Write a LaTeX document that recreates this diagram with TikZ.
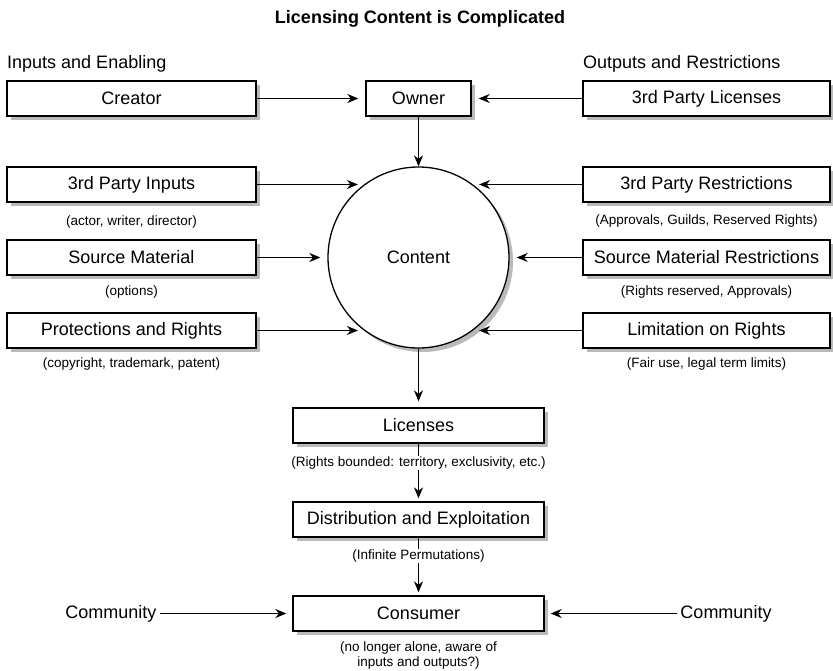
\documentclass[tikz,border=0pt]{standalone}
\usepackage{fontspec}
\setmainfont{Liberation Sans}
\usetikzlibrary{arrows.meta,positioning}

\tikzset{
  box/.style = {draw, line width=1.3pt, fill=white, minimum height=35pt, inner sep=0pt,
    preaction={draw=none, fill=black!27, transform canvas={xshift=4pt, yshift=-4pt}},
    font=\fontsize{18pt}{21pt}\selectfont},
  subtext/.style = {fill=white, inner sep=1pt, align=center,
    font=\fontsize{13.5pt}{15pt}\selectfont},
  plain/.style = {font=\fontsize{18pt}{21pt}\selectfont},
  arr/.style = {-{Stealth[length=11pt,width=9pt,inset=3.5pt]}, line width=1.3pt, shorten >=7pt}
}

\begin{document}
\begin{tikzpicture}[x=1pt, y=-1pt]
  \useasboundingbox (0,0) rectangle (833,670);

  % headings
  \node[plain, anchor=base] (title) at (420,23) {\textbf{Licensing Content is Complicated}};
  \node[plain, anchor=base west, inner sep=0pt] (inhead) at (7,68) {Inputs and Enabling};
  \node[plain, anchor=base west, inner sep=0pt] (outhead) at (583,68) {Outputs and Restrictions};

  % left column
  \node[box, minimum width=249pt] (creator) at (131.5,98.5) {Creator};
  \node[box, minimum width=249pt] (tpinputs) at (131.5,184.5) {3rd Party Inputs};
  \node[box, minimum width=249pt] (source) at (131.5,257.5) {Source Material};
  \node[box, minimum width=249pt] (protect) at (131.5,330.5) {Protections and Rights};

  % right column
  \node[box, minimum width=247pt] (tplic) at (706.5,98.5) {3rd Party Licenses};
  \node[box, minimum width=247pt] (tprestr) at (706.5,184.5) {3rd Party Restrictions};
  \node[box, minimum width=247pt] (srcrestr) at (706.5,257.5) {Source Material Restrictions};
  \node[box, minimum width=247pt] (limits) at (706.5,330.5) {Limitation on Rights};

  % middle
  \node[box, minimum width=105pt] (owner) at (418.5,98.5) {Owner};
  \node[box, circle, minimum size=181pt] (content) at (418.5,257.5) {Content};
  \node[box, minimum width=251pt] (licenses) at (418.5,425.5) {Licenses};
  \node[box, minimum width=251pt] (distrib) at (418.5,519.5) {Distribution and Exploitation};
  \node[box, minimum width=251pt] (consumer) at (418.5,613.5) {Consumer};
  \node[plain] (commleft) at (111,613.5) {Community};
  \node[plain] (commright) at (726,613.5) {Community};

  % Draw arrows into owner and content
  \draw[arr] (creator) -- (owner);
  \draw[arr] (tplic) -- (owner);
  \draw[arr, shorten >=0pt] (owner) -- (content);
  \draw[arr] (tpinputs.east) -- (tpinputs.east -| content.126);
  \draw[arr] (source) -- (content);
  \draw[arr] (protect.east) -- (protect.east -| content.234);
  \draw[arr] (tprestr.west) -- (tprestr.west -| content.54);
  \draw[arr] (srcrestr) -- (content);
  \draw[arr] (limits.west) -- (limits.west -| content.306);

  % Draw arrows down to the consumer
  \draw[arr, shorten >=6pt] (content) -- (licenses);
  \draw[arr, shorten >=3pt] (licenses) -- (distrib);
  \draw[arr, shorten >=3pt] (distrib) -- (consumer);
  \draw[arr, shorten >=6pt] (commleft) -- (consumer);
  \draw[arr, shorten >=6pt] (commright) -- (consumer);

  % small notes under the boxes
  \node[subtext] (tpinputsnote) at (131.5,222) {(actor, writer, director)};
  \node[subtext] (sourcenote) at (131.5,292) {(options)};
  \node[subtext] (protectnote) at (131.5,364) {(copyright, trademark, patent)};
  \node[subtext] (tprestrnote) at (706.5,221) {(Approvals, Guilds, Reserved Rights)};
  \node[subtext] (srcrestrnote) at (706.5,292) {(Rights reserved, Approvals)};
  \node[subtext] (limitsnote) at (706.5,364) {(Fair use, legal term limits)};
  \node[subtext] (licensesnote) at (418.5,463) {(Rights bounded: territory, exclusivity, etc.)};
  \node[subtext] (distribnote) at (418.5,556) {(Infinite Permutations)};
  \node[subtext, fill=none] (consumernote) at (418.5,655) {(no longer alone, aware of\\inputs and outputs?)};
\end{tikzpicture}
\end{document}
